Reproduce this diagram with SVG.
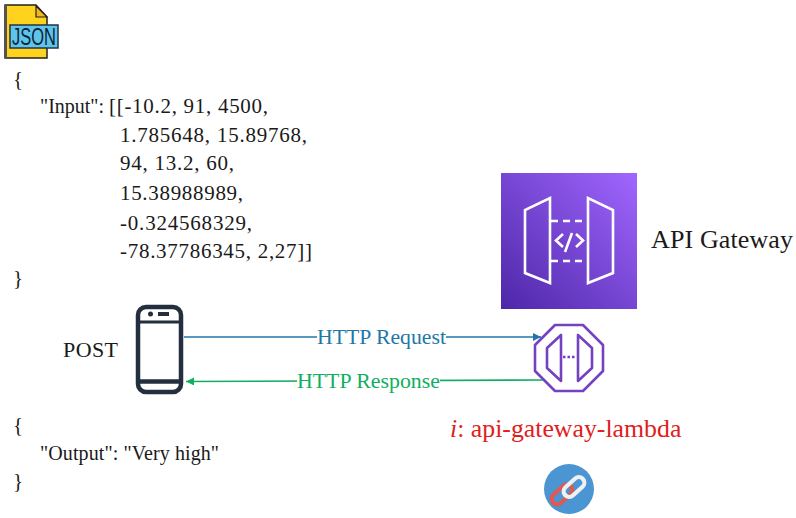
<svg xmlns="http://www.w3.org/2000/svg" width="796" height="518" viewBox="0 0 796 518">
<style>
text{font-family:"Liberation Serif","Times New Roman",serif;fill:#1a1a1a;font-size:20px}
.w{fill:none;stroke:#fff;stroke-width:2.6}
.p{fill:none;stroke:#7442c0;stroke-width:2.6;stroke-linejoin:round}
.d{fill:none;stroke:#232f3e;stroke-width:4.5}
</style>
<defs>
<linearGradient id="g" x1="0" y1="1" x2="1" y2="0"><stop offset="0" stop-color="#4d27a8"/><stop offset="1" stop-color="#a166ff"/></linearGradient>
<marker id="ab" markerWidth="10" markerHeight="10" refX="8" refY="4" orient="auto" markerUnits="userSpaceOnUse"><path d="M0 0L8 4L0 8Z" fill="#1f77a8"/></marker>
<marker id="ag" markerWidth="10" markerHeight="10" refX="8" refY="4" orient="auto" markerUnits="userSpaceOnUse"><path d="M0 0L8 4L0 8Z" fill="#10ae60"/></marker>
</defs>
<rect width="796" height="518" fill="#fff"/>
<g id="json-icon">
<path d="M5 5H36L47 17V58H5Z" fill="#ffd21e" stroke="#222" stroke-width="1.5"/>
<rect x="4" y="5" width="3" height="53" fill="#555"/>
<path d="M36 6V17H47Z" fill="#f3b61f" stroke="#222" stroke-width="1.2"/>
<rect x="10" y="25" width="48" height="23" fill="#5cc5ee" stroke="#234" stroke-width="1.5"/>
<text x="12" y="45" style="font-family:'Liberation Sans',Arial,sans-serif;font-size:23px;fill:#123" textLength="44" lengthAdjust="spacingAndGlyphs">JSON</text>
</g>
<g id="input-json">
<text x="13" y="86" style="font-size:21px">{</text>
<text x="40" y="113" textLength="64" lengthAdjust="spacingAndGlyphs">"Input":</text>
<text x="109" y="113" textLength="159" style="font-size:21px">[[-10.2, 91, 4500,</text>
<text x="120" y="142" textLength="187" style="font-size:21px">1.785648, 15.89768,</text>
<text x="120" y="170" textLength="114" style="font-size:21px">94, 13.2, 60,</text>
<text x="120" y="200" textLength="123" style="font-size:21px">15.38988989,</text>
<text x="120" y="230" textLength="132" style="font-size:21px">-0.324568329,</text>
<text x="120" y="258" textLength="192" style="font-size:21px">-78.37786345, 2,27]]</text>
<text x="13" y="285" style="font-size:21px">}</text>
</g>
<g id="post-label"><text x="63" y="357" style="font-size:22px" textLength="55">POST</text></g>
<g id="phone">
<rect x="138" y="307" width="43" height="85" rx="8" class="d"/>
<path d="M138 322H181" fill="none" stroke="#232f3e" stroke-width="3"/>
<path d="M138 381.500H181" class="d"/>
<circle cx="150.500" cy="314" r="2.500" fill="#232f3e"/>
<rect x="158" y="312" width="11" height="4" fill="#232f3e"/>
</g>
<g id="connectors">
<path d="M184 337H541" fill="none" stroke="#1f77a8" stroke-width="1.600" marker-end="url(#ab)"/>
<path d="M543 380L186 381.500" fill="none" stroke="#10ae60" stroke-width="1.600" marker-end="url(#ag)"/>
</g>
<g id="http-request"><rect x="317" y="328" width="129" height="20" fill="#fff"/><text x="317" y="344" style="font-size:21.500px;fill:#1f77a8" textLength="129" lengthAdjust="spacingAndGlyphs">HTTP Request</text></g>
<g id="http-response"><rect x="297" y="372" width="143" height="20" fill="#fff"/><text x="297" y="388" style="font-size:21.500px;fill:#10ae60" textLength="143" lengthAdjust="spacingAndGlyphs">HTTP Response</text></g>
<g id="api-gateway-icon">
<rect x="501" y="173" width="136" height="136" fill="url(#g)"/>
<path d="M550 198V283L525 273V210Z" class="w"/>
<path d="M588 198V283L613 273V210Z" class="w"/>
<path d="M551 221H587M551 261H587" class="w" stroke-dasharray="7 5"/>
<path d="M563 234L556 240.500L563 247M576 234L583 240.500L576 247M572 233L565 252" class="w"/>
</g>
<g id="api-gateway-label"><text x="651" y="248" style="font-size:26px" textLength="142">API Gateway</text></g>
<g id="endpoint-icon">
<path d="M555 325H583L603 345V371L583 391H555L535 371V345Z" class="p"/>
<path d="M561 335V381L547 368V348Z" class="p"/>
<path d="M578 335V381L592 368V348Z" class="p"/>
<path d="M563 357H575" class="p" stroke-dasharray="2.500 2"/>
</g>
<g id="endpoint-label"><text x="450" y="437" style="font-size:25.800px;fill:#e02020"><tspan font-style="italic">i</tspan>: api-gateway-lambda</text></g>
<g id="output-json">
<text x="13" y="432" style="font-size:21px">{</text>
<text x="40" y="460" textLength="179">"Output": "Very high"</text>
<text x="13" y="488" style="font-size:21px">}</text>
</g>
<g id="link-icon">
<circle cx="569" cy="489" r="25" fill="#4a95d2"/>
<rect x="550" y="489" width="24" height="11" rx="5.500" transform="rotate(-42 562 494.500)" fill="none" stroke="#e0584f" stroke-width="4.200"/>
<rect x="562" y="481.500" width="24" height="11" rx="5.500" transform="rotate(-42 574 487)" fill="none" stroke="#eef1f4" stroke-width="4.200"/>
</g>
</svg>
